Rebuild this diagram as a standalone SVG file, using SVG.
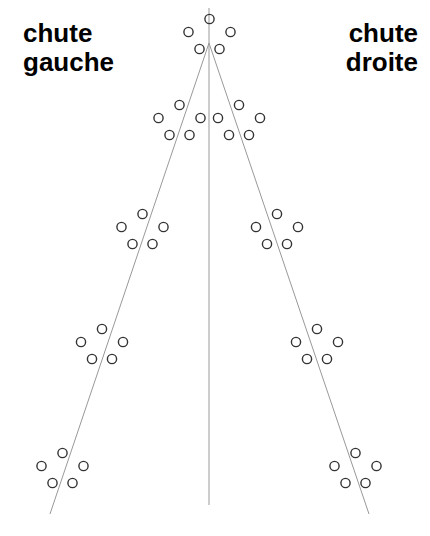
<svg xmlns="http://www.w3.org/2000/svg" width="430" height="536" viewBox="0 0 430 536">
<style>
.ln{stroke:#999;stroke-width:1;fill:none}
.c{fill:none;stroke:#333;stroke-width:1.4}
.t{font-family:"Liberation Sans",Arial,sans-serif;font-weight:bold;font-size:26px;fill:#000}
</style>
<defs>
<g id="five">
<circle class="c" cx="0" cy="0" r="4.6"/>
<circle class="c" cx="-21" cy="13" r="4.6"/>
<circle class="c" cx="21" cy="13" r="4.6"/>
<circle class="c" cx="-10" cy="30" r="4.6"/>
<circle class="c" cx="10" cy="30" r="4.6"/>
</g>
</defs>
<rect width="430" height="536" fill="#fff"/>
<g id="connectors">
<line class="ln" x1="209" y1="8" x2="209" y2="505"/>
<line class="ln" x1="209" y1="43" x2="50" y2="514"/>
<line class="ln" x1="209" y1="43" x2="369" y2="514"/>
</g>
<g id="g-top"><use href="#five" x="209.5" y="19"/></g>
<g id="g-l1"><use href="#five" x="179.5" y="105"/></g>
<g id="g-r1"><use href="#five" x="239" y="105"/></g>
<g id="g-l2"><use href="#five" x="142.5" y="214"/></g>
<g id="g-r2"><use href="#five" x="277" y="214"/></g>
<g id="g-l3"><use href="#five" x="102" y="329"/></g>
<g id="g-r3"><use href="#five" x="317" y="329"/></g>
<g id="g-l4"><use href="#five" x="62.5" y="453"/></g>
<g id="g-r4"><use href="#five" x="355.5" y="453"/></g>
<g id="label-left"><text class="t" x="23" y="42">chute</text><text class="t" x="23" y="71">gauche</text></g>
<g id="label-right"><text class="t" x="418" y="42" text-anchor="end">chute</text><text class="t" x="418" y="71" text-anchor="end">droite</text></g>
</svg>
